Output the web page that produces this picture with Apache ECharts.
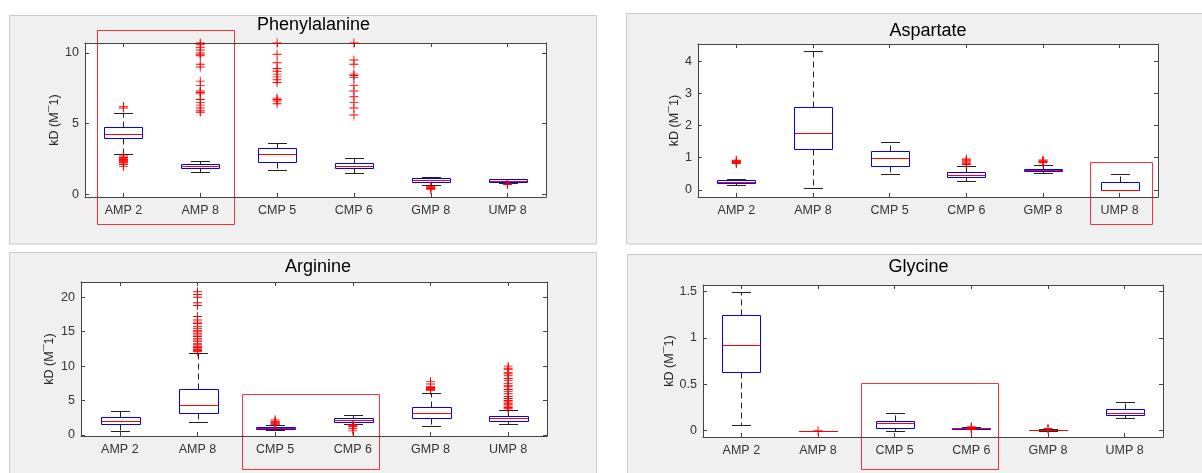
<!DOCTYPE html>
<html><head><meta charset="utf-8">
<script src="https://cdn.jsdelivr.net/npm/echarts@6/dist/echarts.min.js"></script>
<style>html,body{margin:0;padding:0;background:#fff}#c{width:1202px;height:473px}</style>
</head><body><div id="c"></div>
<script>
// ---------- data ----------
const categories = ['AMP 2', 'AMP 8', 'CMP 5', 'CMP 6', 'GMP 8', 'UMP 8'];
const titles = ['Phenylalanine', 'Aspartate', 'Arginine', 'Glycine'];
const yAxisName = 'kD (M\u00AF1)';

// box rows: [lower whisker, Q1, median, Q3, upper whisker]
const pheBoxes = [
  [2.84, 3.97, 4.28, 4.75, 5.74],
  [1.54, 1.82, 1.99, 2.13, 2.32],
  [1.68, 2.29, 2.84, 3.26, 3.64],
  [1.51, 1.82, 2.00, 2.18, 2.58],
  [0.64, 0.85, 0.97, 1.11, 1.23],
  [0.76, 0.87, 0.95, 1.04, 1.09]
];
const pheOutliers = [
  [6.2, 6.1, 2.7, 2.6, 2.55, 2.5, 2.45, 2.4, 2.35, 2.3, 2.25, 2.2, 2.1, 1.95],
  [10.7, 10.6, 10.4, 10.2, 10.0, 9.9, 9.8, 9.2, 9.0, 8.0, 7.7, 7.3, 7.2, 7.1, 6.7, 6.5, 6.3, 6.1, 5.9, 5.8],
  [10.7, 9.9, 9.3, 8.9, 8.7, 8.5, 8.3, 8.1, 7.9, 6.8, 6.7, 6.6, 6.4],
  [10.7, 9.5, 9.2, 8.5, 8.4, 8.25, 7.7, 7.3, 6.9, 6.5, 6.1, 5.6],
  [0.55, 0.5, 0.45, 0.4, 0.35],
  [0.72, 0.68]
];

const aspBoxes = [
  [0.16, 0.22, 0.26, 0.31, 0.34],
  [0.07, 1.26, 1.77, 2.58, 4.30],
  [0.50, 0.73, 0.98, 1.21, 1.49],
  [0.28, 0.40, 0.46, 0.55, 0.75],
  [0.52, 0.58, 0.62, 0.66, 0.77],
  [0.00, 0.00, 0.00, 0.24, 0.50]
];
const aspOutliers = [
  [0.92, 0.9, 0.88, 0.86, 0.84, 0.82],
  [],
  [],
  [0.96, 0.93, 0.9, 0.87, 0.84, 0.81, 0.79],
  [0.93, 0.9, 0.88, 0.86, 0.84],
  []
];

const argBoxes = [
  [0.53, 1.60, 2.08, 2.66, 3.54],
  [1.94, 3.24, 4.31, 6.73, 11.87],
  [0.73, 0.83, 1.02, 1.21, 1.40],
  [1.65, 1.94, 2.23, 2.42, 2.96],
  [1.31, 2.52, 3.24, 4.07, 6.15],
  [1.60, 2.03, 2.42, 2.71, 3.63]
];
const argOutliers = [
  [],
  [20.8, 20.4, 20.0, 19.2, 18.8, 17.2, 16.7, 16.4, 16.2, 15.8, 15.5, 15.2, 15.0, 14.7, 14.5, 14.3, 14.0, 13.8, 13.6, 13.3, 13.1, 12.9, 12.7, 12.5, 12.4, 12.3, 12.2, 12.1],
  [2.2, 2.0, 1.9, 1.8, 1.7, 1.6, 1.5],
  [1.5, 1.4, 1.3, 1.2, 0.9, 0.6],
  [7.75, 7.4, 7.0, 6.9, 6.8, 6.7, 6.6, 6.5],
  [10.0, 9.7, 9.5, 9.1, 8.9, 8.6, 8.2, 7.9, 7.5, 7.2, 7.0, 6.6, 6.3, 6.0, 5.6, 5.3, 5.0, 4.8, 4.6, 4.4, 4.2, 4.0, 3.9, 3.8]
];

const glyBoxes = [
  [0.061, 0.633, 0.928, 1.248, 1.500],
  [0.000, 0.000, 0.000, 0.000, 0.000],
  [0.000, 0.033, 0.087, 0.108, 0.188],
  [0.015, 0.020, 0.026, 0.032, 0.036],
  [0.000, 0.003, 0.006, 0.010, 0.015],
  [0.134, 0.169, 0.194, 0.234, 0.313]
];
const glyOutliers = [
  [],
  [0.0],
  [],
  [0.04, 0.037, 0.018, 0.016],
  [0.022, 0.02],
  []
];

const pheTicks = [0, 5, 10];
const aspTicks = [0, 1, 2, 3, 4];
const argTicks = [0, 5, 10, 15, 20];
const glyTicks = [0, 0.5, 1, 1.5];

const yRanges = [[-0.2, 10.7], [-0.22, 4.53], [-0.145, 22.22], [-0.068, 1.572]];

// ---------- layout / style ----------
const layout = [
  { grid: { left: 85, top: 43, width: 461, height: 154 }, nameGap: 21, title: [313.5, 25] },
  { grid: { left: 698, top: 44, width: 460, height: 153 }, nameGap: 17, title: [928, 31] },
  { grid: { left: 81, top: 282, width: 466, height: 154 }, nameGap: 25, title: [318, 267] },
  { grid: { left: 703, top: 285, width: 460, height: 152 }, nameGap: 25, title: [918.5, 267] }
];
const panels = [
  { x: 9.5, y: 15.5, w: 587, h: 228.5 },
  { x: 626.5, y: 13.5, w: 600, h: 230.5 },
  { x: 9.5, y: 252.5, w: 587, h: 240 },
  { x: 627.5, y: 254.5, w: 600, h: 240 }
];
const highlights = [
  { x: 97.5, y: 30.5, w: 137, h: 194 },
  { x: 1090.5, y: 162.5, w: 62, h: 62 },
  { x: 242.5, y: 394.5, w: 137, h: 75 },
  { x: 861.5, y: 383.5, w: 137, h: 86 }
];

const FONT = '"Liberation Sans", Arial, Helvetica, sans-serif';
const AX = '#444';
const plusPath = 'path://M4.5 0H5.5V4.5H10V5.5H5.5V10H4.5V5.5H0V4.5H4.5Z';

const allBoxes = [pheBoxes, aspBoxes, argBoxes, glyBoxes];
const allOutliers = [pheOutliers, aspOutliers, argOutliers, glyOutliers];
const allTicks = [pheTicks, aspTicks, argTicks, glyTicks];

function renderBox(params, api) {
  const xi = api.value(0);
  const p = [1, 2, 3, 4, 5].map(d => api.coord([xi, api.value(d)]));
  const band = api.size([1, 0])[0];
  const bw = band * 0.5, cw = band * 0.25;
  const r = v => Math.round(v) + 0.5;
  const cx = r(p[0][0]);
  const yLo = r(p[0][1]), yQ1 = r(p[1][1]), yMd = r(p[2][1]), yQ3 = r(p[3][1]), yHi = r(p[4][1]);
  const dash = { stroke: '#222', lineWidth: 1, lineDash: [6, 4] };
  const solid = { stroke: '#222', lineWidth: 1 };
  return {
    type: 'group',
    children: [
      { type: 'line', shape: { x1: cx, y1: yQ3, x2: cx, y2: yHi }, style: dash },
      { type: 'line', shape: { x1: cx, y1: yQ1, x2: cx, y2: yLo }, style: dash },
      { type: 'line', shape: { x1: Math.round(cx - cw / 2), y1: yHi, x2: Math.round(cx + cw / 2), y2: yHi }, style: solid },
      { type: 'line', shape: { x1: Math.round(cx - cw / 2), y1: yLo, x2: Math.round(cx + cw / 2), y2: yLo }, style: solid },
      { type: 'rect', shape: { x: Math.round(cx - bw / 2) + 0.5, y: yQ3, width: Math.round(bw), height: yQ1 - yQ3 }, style: { fill: 'none', stroke: '#0000ff', lineWidth: 1 } },
      { type: 'line', shape: { x1: Math.round(cx - bw / 2) + 0.5, y1: yMd, x2: Math.round(cx - bw / 2) + 0.5 + Math.round(bw), y2: yMd }, style: { stroke: '#ff0000', lineWidth: 1 } }
    ]
  };
}

const grids = [], xAxes = [], yAxes = [], series = [], graphics = [];

panels.forEach(pn => graphics.push({
  type: 'rect', z: -10, shape: { x: pn.x, y: pn.y, width: pn.w, height: pn.h },
  style: { fill: '#f0f0f0', stroke: '#c9c9c9', lineWidth: 1 }
}));

for (let g = 0; g < 4; g++) {
  const L = layout[g];
  grids.push(Object.assign({ show: true, backgroundColor: '#ffffff', borderWidth: 0 }, L.grid));
  const xBase = {
    type: 'category', gridIndex: g, data: categories, boundaryGap: true,
    axisLine: { show: true, onZero: false, lineStyle: { color: AX, width: 1 } },
    axisTick: { show: true, inside: true, alignWithLabel: true, length: 4, lineStyle: { color: AX } },
    splitLine: { show: false }
  };
  xAxes.push(Object.assign({}, xBase, { position: 'bottom',
    axisLabel: { color: '#333', fontSize: 12.5, fontFamily: FONT, margin: 7 } }));
  xAxes.push(Object.assign({}, xBase, { position: 'top', axisLabel: { show: false } }));
  const ticks = allTicks[g];
  const yBase = {
    type: 'value', gridIndex: g, min: yRanges[g][0], max: yRanges[g][1],
    axisLine: { show: true, onZero: false, lineStyle: { color: AX, width: 1 } },
    axisTick: { show: true, inside: true, length: 4, customValues: ticks, lineStyle: { color: AX } },
    splitLine: { show: false }
  };
  yAxes.push(Object.assign({}, yBase, {
    position: 'left',
    axisLabel: { customValues: ticks, color: '#333', fontSize: 12.5, fontFamily: FONT, margin: 6, formatter: v => String(v) },
    name: yAxisName, nameLocation: 'middle', nameGap: L.nameGap,
    nameTextStyle: { color: '#262626', fontSize: 12.5, fontFamily: FONT }
  }));
  yAxes.push(Object.assign({}, yBase, { position: 'right', axisLabel: { show: false } }));

  series.push({
    type: 'custom', xAxisIndex: 2 * g, yAxisIndex: 2 * g, silent: true, z: 2,
    renderItem: renderBox,
    encode: { x: 0, y: [1, 2, 3, 4, 5] },
    data: allBoxes[g].map((b, i) => [i].concat(b))
  });
  const pts = [];
  allOutliers[g].forEach((arr, i) => arr.forEach(v => pts.push([i, v])));
  series.push({
    type: 'scatter', xAxisIndex: 2 * g, yAxisIndex: 2 * g, silent: true, z: 3,
    symbol: plusPath, symbolSize: 9, symbolKeepAspect: true,
    itemStyle: { color: '#ff0000', opacity: 1 },
    data: pts
  });

  graphics.push({
    type: 'text', z: 50, x: L.title[0], y: L.title[1],
    style: { text: titles[g], fill: '#000', fontSize: 18, fontFamily: FONT, align: 'center', verticalAlign: 'middle' }
  });
}

highlights.forEach(h => graphics.push({
  type: 'rect', z: 100, shape: { x: h.x, y: h.y, width: h.w, height: h.h },
  style: { fill: 'none', stroke: 'rgba(255,0,0,0.8)', lineWidth: 1 }
}));

const chart = echarts.init(document.getElementById('c'), null, { renderer: 'canvas' });
chart.setOption({
  backgroundColor: '#ffffff',
  animation: false,
  grid: grids,
  xAxis: xAxes,
  yAxis: yAxes,
  series: series,
  graphic: { elements: graphics }
});
</script>
</body></html>
